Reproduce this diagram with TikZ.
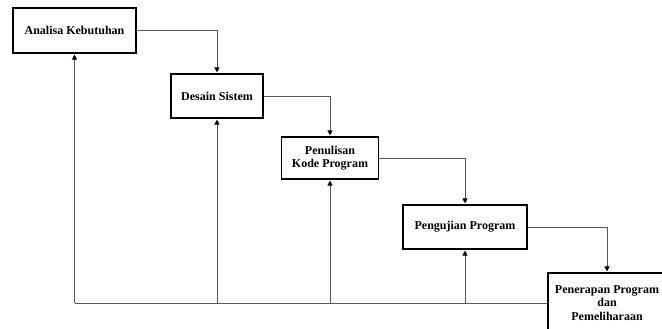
\documentclass[tikz,border=0pt]{standalone}
\usepackage{fontspec}
\setmainfont{Liberation Serif}
\usetikzlibrary{arrows.meta}

\begin{document}
\begin{tikzpicture}[x=1pt,y=-1pt,
    caja/.style={draw, line width=1.5pt, fill=white, align=center, inner sep=0pt,
      font=\bfseries\fontsize{12}{13.5}\selectfont},
    linea/.style={draw=black!65, line width=0.9pt},
    flecha/.style={linea, -{Triangle[length=5pt,width=5pt,color=black]}, shorten >=0.8pt}]
  \useasboundingbox (0,0) rectangle (662,329);

  % Cajas de las etapas
  \node[caja, minimum width=123pt, minimum height=45pt] (analisa) at (74.5,30.5) {Analisa Kebutuhan};
  \node[caja, minimum width=92pt, minimum height=44pt] (desain) at (217,96) {Desain Sistem};
  \node[caja, minimum width=97pt, minimum height=42pt] (penulisan) at (330,158) {Penulisan\\Kode Program};
  \node[caja, minimum width=124pt, minimum height=44pt] (pengujian) at (465,227) {Pengujian Program};
  \node[caja, minimum width=118pt, minimum height=60pt] (penerapan) at (607,303) {Penerapan Program\\dan\\Pemeliharaan};

  % Flechas hacia abajo
  \draw[flecha] (analisa.east) -| (desain.north);
  \draw[flecha] (desain.east) -| (penulisan.north);
  \draw[flecha] (penulisan.east) -| (pengujian.north);
  \draw[flecha] (pengujian.east) -| (penerapan.north);

  % Retroalimentacion
  \draw[linea] (penerapan.west) -- (penerapan.west -| analisa.south);
  \foreach \n in {analisa,desain,penulisan,pengujian}{
    \draw[flecha] (\n.south |- penerapan.west) -- (\n.south);
  }
\end{tikzpicture}
\end{document}
